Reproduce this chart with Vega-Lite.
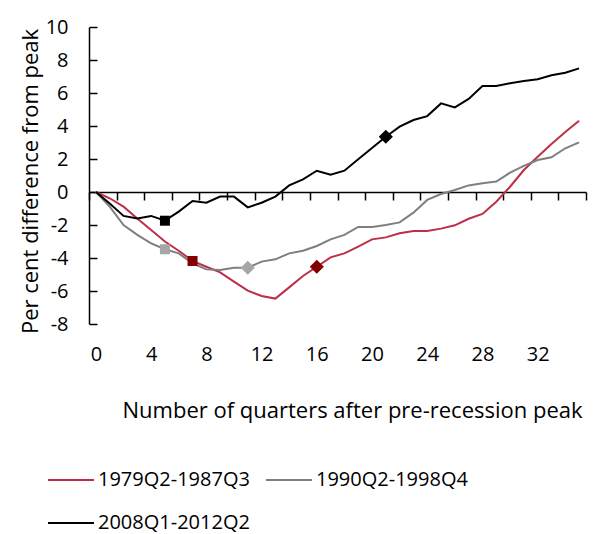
{
  "$schema": "https://vega.github.io/schema/vega-lite/v6.json",
  "width": 497,
  "height": 297,
  "autosize": {"type": "none"},
  "padding": {"left": 89, "top": 27, "right": 16, "bottom": 210},
  "config": {"font": "Open Sans", "view": {"stroke": null}},
  "datasets": {
    "lines": [
      {"q": 0, "series": "1979Q2-1987Q3", "v": 0},
      {"q": 1, "series": "1979Q2-1987Q3", "v": -0.38},
      {"q": 2, "series": "1979Q2-1987Q3", "v": -0.89},
      {"q": 3, "series": "1979Q2-1987Q3", "v": -1.6},
      {"q": 4, "series": "1979Q2-1987Q3", "v": -2.3},
      {"q": 5, "series": "1979Q2-1987Q3", "v": -3.0},
      {"q": 6, "series": "1979Q2-1987Q3", "v": -3.56},
      {"q": 7, "series": "1979Q2-1987Q3", "v": -4.18},
      {"q": 8, "series": "1979Q2-1987Q3", "v": -4.53},
      {"q": 9, "series": "1979Q2-1987Q3", "v": -4.87},
      {"q": 10, "series": "1979Q2-1987Q3", "v": -5.43},
      {"q": 11, "series": "1979Q2-1987Q3", "v": -5.98},
      {"q": 12, "series": "1979Q2-1987Q3", "v": -6.3},
      {"q": 13, "series": "1979Q2-1987Q3", "v": -6.46},
      {"q": 14, "series": "1979Q2-1987Q3", "v": -5.78},
      {"q": 15, "series": "1979Q2-1987Q3", "v": -5.09},
      {"q": 16, "series": "1979Q2-1987Q3", "v": -4.53},
      {"q": 17, "series": "1979Q2-1987Q3", "v": -3.96},
      {"q": 18, "series": "1979Q2-1987Q3", "v": -3.72},
      {"q": 19, "series": "1979Q2-1987Q3", "v": -3.31},
      {"q": 20, "series": "1979Q2-1987Q3", "v": -2.87},
      {"q": 21, "series": "1979Q2-1987Q3", "v": -2.75},
      {"q": 22, "series": "1979Q2-1987Q3", "v": -2.5},
      {"q": 23, "series": "1979Q2-1987Q3", "v": -2.36},
      {"q": 24, "series": "1979Q2-1987Q3", "v": -2.36},
      {"q": 25, "series": "1979Q2-1987Q3", "v": -2.22},
      {"q": 26, "series": "1979Q2-1987Q3", "v": -2.02},
      {"q": 27, "series": "1979Q2-1987Q3", "v": -1.62},
      {"q": 28, "series": "1979Q2-1987Q3", "v": -1.33},
      {"q": 29, "series": "1979Q2-1987Q3", "v": -0.59},
      {"q": 30, "series": "1979Q2-1987Q3", "v": 0.32},
      {"q": 31, "series": "1979Q2-1987Q3", "v": 1.33},
      {"q": 32, "series": "1979Q2-1987Q3", "v": 2.14},
      {"q": 33, "series": "1979Q2-1987Q3", "v": 2.91},
      {"q": 34, "series": "1979Q2-1987Q3", "v": 3.64},
      {"q": 35, "series": "1979Q2-1987Q3", "v": 4.32},
      {"q": 0, "series": "1990Q2-1998Q4", "v": 0},
      {"q": 1, "series": "1990Q2-1998Q4", "v": -0.89},
      {"q": 2, "series": "1990Q2-1998Q4", "v": -2.0},
      {"q": 3, "series": "1990Q2-1998Q4", "v": -2.6},
      {"q": 4, "series": "1990Q2-1998Q4", "v": -3.11},
      {"q": 5, "series": "1990Q2-1998Q4", "v": -3.47},
      {"q": 6, "series": "1990Q2-1998Q4", "v": -3.72},
      {"q": 7, "series": "1990Q2-1998Q4", "v": -4.32},
      {"q": 8, "series": "1990Q2-1998Q4", "v": -4.69},
      {"q": 9, "series": "1990Q2-1998Q4", "v": -4.73},
      {"q": 10, "series": "1990Q2-1998Q4", "v": -4.59},
      {"q": 11, "series": "1990Q2-1998Q4", "v": -4.59},
      {"q": 12, "series": "1990Q2-1998Q4", "v": -4.22},
      {"q": 13, "series": "1990Q2-1998Q4", "v": -4.08},
      {"q": 14, "series": "1990Q2-1998Q4", "v": -3.72},
      {"q": 15, "series": "1990Q2-1998Q4", "v": -3.56},
      {"q": 16, "series": "1990Q2-1998Q4", "v": -3.27},
      {"q": 17, "series": "1990Q2-1998Q4", "v": -2.87},
      {"q": 18, "series": "1990Q2-1998Q4", "v": -2.6},
      {"q": 19, "series": "1990Q2-1998Q4", "v": -2.12},
      {"q": 20, "series": "1990Q2-1998Q4", "v": -2.12},
      {"q": 21, "series": "1990Q2-1998Q4", "v": -2.0},
      {"q": 22, "series": "1990Q2-1998Q4", "v": -1.84},
      {"q": 23, "series": "1990Q2-1998Q4", "v": -1.25},
      {"q": 24, "series": "1990Q2-1998Q4", "v": -0.48},
      {"q": 25, "series": "1990Q2-1998Q4", "v": -0.12},
      {"q": 26, "series": "1990Q2-1998Q4", "v": 0.12},
      {"q": 27, "series": "1990Q2-1998Q4", "v": 0.4},
      {"q": 28, "series": "1990Q2-1998Q4", "v": 0.53},
      {"q": 29, "series": "1990Q2-1998Q4", "v": 0.63},
      {"q": 30, "series": "1990Q2-1998Q4", "v": 1.17},
      {"q": 31, "series": "1990Q2-1998Q4", "v": 1.58},
      {"q": 32, "series": "1990Q2-1998Q4", "v": 1.94},
      {"q": 33, "series": "1990Q2-1998Q4", "v": 2.1},
      {"q": 34, "series": "1990Q2-1998Q4", "v": 2.65},
      {"q": 35, "series": "1990Q2-1998Q4", "v": 3.01},
      {"q": 0, "series": "2008Q1-2012Q2", "v": 0},
      {"q": 1, "series": "2008Q1-2012Q2", "v": -0.69},
      {"q": 2, "series": "2008Q1-2012Q2", "v": -1.45},
      {"q": 3, "series": "2008Q1-2012Q2", "v": -1.6},
      {"q": 4, "series": "2008Q1-2012Q2", "v": -1.45},
      {"q": 5, "series": "2008Q1-2012Q2", "v": -1.74},
      {"q": 6, "series": "2008Q1-2012Q2", "v": -1.19},
      {"q": 7, "series": "2008Q1-2012Q2", "v": -0.55},
      {"q": 8, "series": "2008Q1-2012Q2", "v": -0.65},
      {"q": 9, "series": "2008Q1-2012Q2", "v": -0.28},
      {"q": 10, "series": "2008Q1-2012Q2", "v": -0.28},
      {"q": 11, "series": "2008Q1-2012Q2", "v": -0.93},
      {"q": 12, "series": "2008Q1-2012Q2", "v": -0.65},
      {"q": 13, "series": "2008Q1-2012Q2", "v": -0.28},
      {"q": 14, "series": "2008Q1-2012Q2", "v": 0.4},
      {"q": 15, "series": "2008Q1-2012Q2", "v": 0.77},
      {"q": 16, "series": "2008Q1-2012Q2", "v": 1.29},
      {"q": 17, "series": "2008Q1-2012Q2", "v": 1.05},
      {"q": 18, "series": "2008Q1-2012Q2", "v": 1.29},
      {"q": 19, "series": "2008Q1-2012Q2", "v": 1.98},
      {"q": 20, "series": "2008Q1-2012Q2", "v": 2.67},
      {"q": 21, "series": "2008Q1-2012Q2", "v": 3.35},
      {"q": 22, "series": "2008Q1-2012Q2", "v": 3.96},
      {"q": 23, "series": "2008Q1-2012Q2", "v": 4.36},
      {"q": 24, "series": "2008Q1-2012Q2", "v": 4.6},
      {"q": 25, "series": "2008Q1-2012Q2", "v": 5.37},
      {"q": 26, "series": "2008Q1-2012Q2", "v": 5.13},
      {"q": 27, "series": "2008Q1-2012Q2", "v": 5.64},
      {"q": 28, "series": "2008Q1-2012Q2", "v": 6.42},
      {"q": 29, "series": "2008Q1-2012Q2", "v": 6.42},
      {"q": 30, "series": "2008Q1-2012Q2", "v": 6.59},
      {"q": 31, "series": "2008Q1-2012Q2", "v": 6.73},
      {"q": 32, "series": "2008Q1-2012Q2", "v": 6.83},
      {"q": 33, "series": "2008Q1-2012Q2", "v": 7.07},
      {"q": 34, "series": "2008Q1-2012Q2", "v": 7.23},
      {"q": 35, "series": "2008Q1-2012Q2", "v": 7.49}
    ],
    "markers": [
      {"q": 7, "series": "1979Q2-1987Q3", "kind": "square", "v": -4.18},
      {"q": 16, "series": "1979Q2-1987Q3", "kind": "diamond", "v": -4.53},
      {"q": 5, "series": "1990Q2-1998Q4", "kind": "square", "v": -3.47},
      {"q": 11, "series": "1990Q2-1998Q4", "kind": "diamond", "v": -4.59},
      {"q": 5, "series": "2008Q1-2012Q2", "kind": "square", "v": -1.74},
      {"q": 21, "series": "2008Q1-2012Q2", "kind": "diamond", "v": 3.35}
    ]
  },
  "resolve": {"scale": {"color": "independent"}, "axis": {"x": "independent", "y": "independent"}},
  "layer": [
    {
      "data": {"name": "lines"},
      "mark": {"type": "line", "strokeWidth": 2},
      "encoding": {
        "x": {
          "field": "q", "type": "quantitative",
          "scale": {"domain": [-0.5, 35.5], "nice": false, "zero": false},
          "axis": {
            "orient": "bottom",
            "values": [-0.5, 1.5, 3.5, 5.5, 7.5, 9.5, 11.5, 13.5, 15.5, 17.5, 19.5, 21.5, 23.5, 25.5, 27.5, 29.5, 31.5, 33.5, 35.5],
            "labels": false, "title": null, "grid": false,
            "offset": -132, "tickSize": 8, "tickColor": "#000000", "tickWidth": 1.5,
            "domainColor": "#000000", "domainWidth": 1.5
          }
        },
        "y": {
          "field": "v", "type": "quantitative",
          "scale": {"domain": [-8, 10], "nice": false},
          "axis": {
            "orient": "left",
            "values": [-8, -6, -4, -2, 0, 2, 4, 6, 8, 10],
            "labelExpr": "datum.value < 0 ? '-' + abs(datum.value) : '' + datum.value",
            "labelOverlap": false,
            "grid": false, "tickSize": -8, "tickColor": "#000000", "tickWidth": 1.5,
            "domainColor": "#000000", "domainWidth": 1.5,
            "labelPadding": 29, "labelFontSize": 20, "labelColor": "#000000",
            "title": "Per cent difference from peak",
            "titleFontSize": 22, "titleFontWeight": "normal", "titleColor": "#000000",
            "titleX": -59, "titleY": 154, "titleAngle": -90, "titleAlign": "center", "titleBaseline": "middle"
          }
        },
        "color": {
          "field": "series", "type": "nominal",
          "scale": {"domain": ["1979Q2-1987Q3", "1990Q2-1998Q4", "2008Q1-2012Q2"], "range": ["#BE2F47", "#7F7F7F", "#000000"]},
          "legend": {
            "orient": "none", "legendX": -42, "legendY": 429, "columns": 2, "direction": "horizontal", "title": null,
            "symbolType": "stroke", "symbolSize": 2116, "symbolStrokeWidth": 2,
            "labelFontSize": 20, "labelColor": "#000000", "labelOffset": 3,
            "columnPadding": 12, "rowPadding": 9
          }
        }
      }
    },
    {
      "data": {"name": "markers"},
      "transform": [{"filter": "datum.kind === 'square'"}],
      "mark": {"type": "point", "filled": true, "opacity": 1, "size": 100, "shape": "square"},
      "encoding": {
        "x": {
          "field": "q", "type": "quantitative",
          "scale": {"domain": [-0.5, 35.5], "nice": false, "zero": false},
          "axis": {
            "orient": "bottom",
            "values": [0, 4, 8, 12, 16, 20, 24, 28, 32],
            "domain": false, "ticks": false, "grid": false,
            "labelPadding": 20, "labelFontSize": 20, "labelColor": "#000000",
            "title": "Number of quarters after pre-recession peak",
            "titleFontSize": 22, "titleFontWeight": "normal", "titleColor": "#000000",
            "titleAnchor": "start", "titleAlign": "left", "titleX": 33, "titleY": 86, "titleBaseline": "middle"
          }
        },
        "y": {"field": "v", "type": "quantitative", "scale": {"domain": [-8, 10], "nice": false}, "axis": null},
        "color": {
          "field": "series", "type": "nominal",
          "scale": {"domain": ["1979Q2-1987Q3", "1990Q2-1998Q4", "2008Q1-2012Q2"], "range": ["#800000", "#A6A6A6", "#000000"]},
          "legend": null
        }
      }
    },
    {
      "data": {"name": "markers"},
      "transform": [{"filter": "datum.kind === 'diamond'"}],
      "mark": {"type": "point", "filled": true, "opacity": 1, "size": 200, "shape": "diamond"},
      "encoding": {
        "x": {"field": "q", "type": "quantitative", "scale": {"domain": [-0.5, 35.5], "nice": false, "zero": false}, "axis": null},
        "y": {"field": "v", "type": "quantitative", "scale": {"domain": [-8, 10], "nice": false}, "axis": null},
        "color": {
          "field": "series", "type": "nominal",
          "scale": {"domain": ["1979Q2-1987Q3", "1990Q2-1998Q4", "2008Q1-2012Q2"], "range": ["#800000", "#A6A6A6", "#000000"]},
          "legend": null
        }
      }
    }
  ]
}
